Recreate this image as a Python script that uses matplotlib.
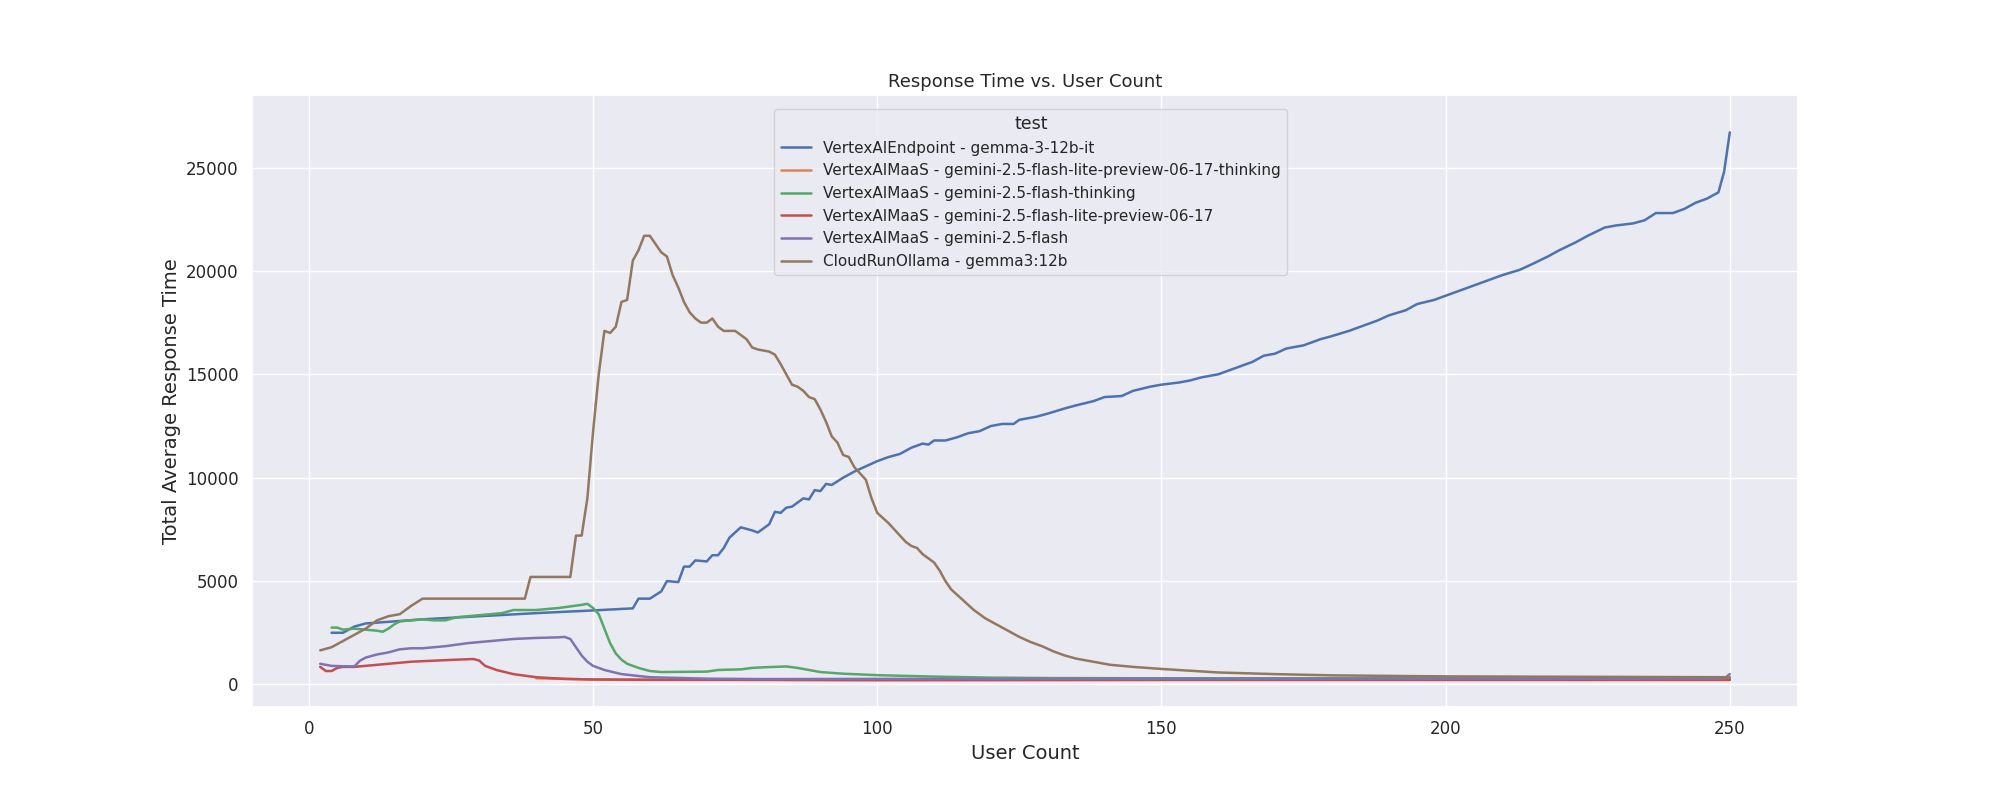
import matplotlib
matplotlib.use("Agg")
import matplotlib.pyplot as plt
import seaborn as sns

sns.set_theme(style="darkgrid")

names = [
    "VertexAIEndpoint - gemma-3-12b-it",
    "VertexAIMaaS - gemini-2.5-flash-lite-preview-06-17-thinking",
    "VertexAIMaaS - gemini-2.5-flash-thinking",
    "VertexAIMaaS - gemini-2.5-flash-lite-preview-06-17",
    "VertexAIMaaS - gemini-2.5-flash",
    "CloudRunOllama - gemma3:12b",
]

endpoint_x = [4,6,8,10,20,30,40,50,57,58,60,62,63,65,66,67,68,70,71,72,73,74,76,78,79,81,82,83,84,85,87,88,89,90,91,92,94,96,98,100,102,104,106,108,109,110,112,114,116,118,120,122,124,125,128,130,133,135,138,140,143,145,148,150,153,155,157,160,163,166,168,170,172,175,178,180,183,185,188,190,193,195,198,200,203,205,208,210,213,215,218,220,223,225,228,230,233,235,237,240,242,244,246,248,249,250]
endpoint_y = [2500,2500,2800,2950,3150,3300,3450,3580,3680,4150,4150,4500,5000,4950,5700,5700,6000,5950,6250,6250,6600,7100,7600,7450,7350,7750,8350,8300,8550,8600,9000,8950,9400,9350,9700,9650,10000,10300,10550,10800,11000,11150,11450,11650,11600,11800,11800,11950,12150,12250,12500,12600,12600,12800,12950,13100,13350,13500,13700,13900,13950,14200,14400,14500,14600,14700,14850,15000,15300,15600,15900,16000,16250,16400,16700,16850,17100,17300,17600,17850,18100,18400,18600,18800,19100,19300,19600,19800,20050,20300,20700,21000,21400,21700,22100,22200,22300,22450,22800,22800,23000,23300,23500,23800,24800,26700]

litethink_x = [40,50,100,150,200,250]
litethink_y = [300,240,210,220,220,220]

flashthink_x = [4,5,6,8,10,12,13,14,15,16,18,20,22,24,26,28,30,34,36,40,44,48,49,50,51,52,53,54,55,56,58,60,62,70,72,76,78,80,84,86,88,90,94,100,110,120,130,150,250]
flashthink_y = [2750,2750,2650,2700,2650,2600,2550,2700,2900,3050,3100,3150,3100,3100,3250,3300,3350,3450,3600,3600,3700,3850,3900,3700,3400,2700,2000,1500,1200,1000,800,650,600,620,700,730,800,830,870,800,700,600,520,450,380,330,310,300,300]

lite_x = [2,3,4,5,6,8,10,12,14,16,18,22,26,29,30,31,33,36,40,45,50,60,80,100,150,250]
lite_y = [850,650,650,800,850,850,900,950,1000,1050,1100,1150,1200,1230,1150,900,700,500,350,270,240,220,220,210,220,220]

flash_x = [2,4,6,8,9,10,12,14,16,18,20,24,28,32,36,40,44,45,46,47,48,49,50,52,55,60,70,80,100,150,200,249,250]
flash_y = [1000,900,880,870,1150,1300,1450,1550,1700,1750,1750,1850,2000,2100,2200,2250,2280,2300,2200,1800,1400,1100,900,700,500,350,280,260,270,270,270,280,500]

ollama_x = [2,4,6,8,10,12,14,16,18,20,38,39,46,47,48,49,50,51,52,53,54,55,56,57,58,59,60,61,62,63,64,65,66,67,68,69,70,71,72,73,75,76,77,78,79,80,81,82,83,84,85,86,87,88,89,90,91,92,93,94,95,96,97,98,99,100,102,104,105,106,107,108,110,111,112,113,115,117,119,121,123,125,127,129,131,133,135,138,141,145,150,160,170,180,200,250]
ollama_y = [1650,1800,2100,2400,2700,3100,3300,3400,3800,4150,4150,5200,5200,7200,7200,9000,12200,15000,17100,17000,17300,18500,18600,20500,21000,21700,21700,21300,20900,20700,19800,19200,18500,18000,17700,17500,17500,17700,17300,17100,17100,16900,16700,16300,16200,16150,16100,15950,15500,15000,14500,14400,14200,13900,13800,13300,12700,12000,11700,11100,11000,10500,10200,9900,9000,8300,7800,7200,6900,6700,6600,6300,5900,5500,5000,4600,4100,3600,3200,2900,2600,2300,2050,1850,1600,1400,1250,1100,950,850,750,580,500,440,390,350]

series = [(endpoint_x, endpoint_y), (litethink_x, litethink_y), (flashthink_x, flashthink_y),
          (lite_x, lite_y), (flash_x, flash_y), (ollama_x, ollama_y)]

colors = sns.color_palette("deep")
fig = plt.figure(figsize=(20, 8), dpi=100)
ax = fig.add_axes([0.126, 0.116, 0.773, 0.765])
for i, (n, (xs, ys)) in enumerate(zip(names, series)):
    ax.plot(xs, ys, color=colors[i], label=n, linewidth=1.8)

ax.set_xlim(-10, 262)
ax.set_ylim(-1100, 28500)
ax.set_yticks([0, 5000, 10000, 15000, 20000, 25000])
ax.set_xticks([0, 50, 100, 150, 200, 250])
ax.set_title("Response Time vs. User Count", fontsize=13)
ax.set_xlabel("User Count", fontsize=14)
ax.set_ylabel("Total Average Response Time", fontsize=14)
ax.tick_params(labelsize=12)
ax.legend(title="test", loc="upper left", bbox_to_anchor=(0.333, 0.99),
          fontsize=11, title_fontsize=12.5)
fig.savefig("out.png")
